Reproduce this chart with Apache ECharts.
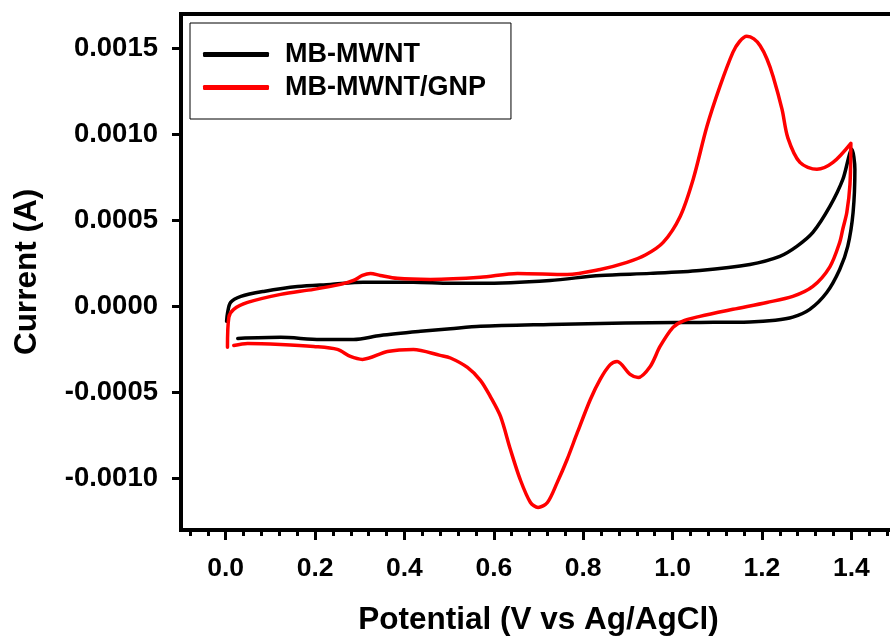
<!DOCTYPE html>
<html>
<head>
<meta charset="utf-8">
<script src="https://cdn.jsdelivr.net/npm/echarts@6/dist/echarts.min.js"></script>
<style>html,body{margin:0;padding:0;background:#fff}#c{width:890px;height:639px}</style>
</head>
<body>
<div id="c"></div>
<script>
// Potential (V) and current (1e-4 A)
const mwntV = [0.002,0.004,0.011,0.034,0.085,0.161,0.235,0.308,0.420,0.503,0.570,0.726,0.838,0.950,1.061,1.173,1.240,1.278,1.314,1.352,1.381,1.401,
  1.408,1.404,1.392,1.374,1.345,1.307,1.269,1.230,1.173,1.061,0.950,0.838,0.726,0.570,0.503,0.436,0.346,0.286,0.212,0.123,0.027];
const mwntI = [-0.87,-0.40,0.23,0.58,0.87,1.16,1.28,1.40,1.40,1.34,1.34,1.51,1.80,1.92,2.09,2.44,2.91,3.49,4.30,5.81,7.38,9.13,
  7.97,5.47,3.49,2.15,0.81,-0.17,-0.62,-0.80,-0.90,-0.93,-0.95,-0.99,-1.05,-1.16,-1.30,-1.45,-1.69,-1.92,-1.92,-1.80,-1.86];

const gnpV = [0.004,0.007,0.018,0.049,0.123,0.197,0.257,0.286,0.306,0.324,0.346,0.384,0.458,0.570,0.653,0.764,0.838,0.898,0.940,0.979,1.017,1.046,1.077,1.106,1.135,1.150,1.166,1.182,1.196,1.211,1.225,1.245,1.258,1.285,1.323,1.359,1.399,
  1.397,1.390,1.381,1.374,1.352,1.314,1.269,1.211,1.135,1.061,1.023,1.001,0.972,0.950,0.923,0.905,0.876,0.860,0.838,0.816,0.787,0.764,0.742,0.720,0.699,0.682,0.659,0.637,0.615,0.592,0.570,0.541,0.503,0.480,0.420,0.362,0.306,0.279,0.250,0.197,0.123,0.049,0.018];
const gnpI = [-2.38,-0.64,-0.17,0.23,0.70,0.99,1.28,1.51,1.80,1.92,1.80,1.63,1.57,1.69,1.92,1.86,2.15,2.56,3.00,3.72,5.23,7.38,10.47,12.79,14.77,15.40,15.70,15.55,15.15,14.40,13.37,11.45,9.80,8.37,7.97,8.37,9.48,
  7.10,5.47,4.50,3.72,2.30,1.16,0.58,0.23,-0.17,-0.58,-0.85,-1.22,-2.33,-3.49,-4.13,-3.95,-3.20,-3.40,-4.24,-5.41,-7.33,-8.90,-10.23,-11.40,-11.69,-11.40,-10.06,-8.31,-6.40,-5.23,-4.30,-3.55,-3.00,-2.85,-2.50,-2.62,-3.08,-2.91,-2.50,-2.33,-2.21,-2.15,-2.27];

const xTickLabels = [0.0,0.2,0.4,0.6,0.8,1.0,1.2,1.4];
const xMinorTicks = [-0.08,-0.04,0.04,0.08,0.12,0.16,0.24,0.28,0.32,0.36,0.44,0.48,0.52,0.56,0.64,0.68,0.72,0.76,0.84,0.88,0.92,0.96,1.04,1.08,1.12,1.16,1.24,1.28,1.32,1.36,1.44,1.48];
const yTickLabels = [-0.0010,-0.0005,0.0000,0.0005,0.0010,0.0015];

const pairs = (xs, ys) => xs.map((x, i) => [x, ys[i] * 1e-4]);
const FONT = '"Liberation Sans", Arial, sans-serif';

const chart = echarts.init(document.getElementById('c'), null, {renderer: 'canvas'});
chart.setOption({
  animation: false,
  backgroundColor: '#fff',
  grid: {left: 181, top: 14, width: 715, height: 516, show: true, borderColor: '#000', borderWidth: 4, containLabel: false, outerBoundsMode: 'none'},
  legend: {
    left: 190, top: 23, orient: 'vertical',
    padding: [18, 25, 18, 13], itemGap: 6, itemWidth: 66, itemHeight: 5,
    borderColor: '#000', borderWidth: 1, backgroundColor: '#fff',
    icon: 'roundRect',
    textStyle: {fontFamily: FONT, fontSize: 27, fontWeight: 'bold', color: '#000', padding: [0, 0, 0, 11]},
    data: ['MB-MWNT', 'MB-MWNT/GNP']
  },
  xAxis: [{
    type: 'value', min: -0.1, max: 1.5, gridIndex: 0, position: 'bottom',
    name: 'Potential (V vs Ag/AgCl)', nameLocation: 'middle', nameGap: 74,
    nameTextStyle: {fontFamily: FONT, fontSize: 31.5, fontWeight: 'bold', color: '#000'},
    axisLine: {show: true, onZero: false, lineStyle: {color: '#000', width: 4}},
    axisTick: {show: true, inside: false, length: 10, lineStyle: {color: '#000', width: 3}, customValues: xTickLabels},
    axisLabel: {show: true, margin: 25, fontFamily: FONT, fontSize: 26.5, fontWeight: 'bold', color: '#000',
      customValues: xTickLabels, formatter: v => v.toFixed(1)},
    splitLine: {show: false}
  }, {
    type: 'value', min: -0.1, max: 1.5, gridIndex: 0, position: 'bottom',
    axisLine: {show: false, onZero: false},
    axisTick: {show: true, inside: false, length: 6, lineStyle: {color: '#000', width: 3}, customValues: xMinorTicks},
    axisLabel: {show: false},
    splitLine: {show: false}
  }],
  yAxis: {
    type: 'value', min: -0.0013, max: 0.0017,
    name: 'Current (A)', nameLocation: 'middle', nameGap: 138,
    nameTextStyle: {fontFamily: FONT, fontSize: 31.5, fontWeight: 'bold', color: '#000'},
    axisLine: {show: true, onZero: false, lineStyle: {color: '#000', width: 4}},
    axisTick: {show: true, inside: false, length: 9, lineStyle: {color: '#000', width: 3}, customValues: yTickLabels},
    axisLabel: {show: true, margin: 23, fontFamily: FONT, fontSize: 27.5, fontWeight: 'bold', color: '#000',
      customValues: yTickLabels, formatter: v => v.toFixed(4)},
    splitLine: {show: false}
  },
  series: [{
    name: 'MB-MWNT', type: 'line', xAxisIndex: 0, data: pairs(mwntV, mwntI),
    showSymbol: false, symbol: 'none', smooth: 0.3, color: '#000',
    lineStyle: {color: '#000', width: 3.5, cap: 'round', join: 'round'}
  }, {
    name: 'MB-MWNT/GNP', type: 'line', xAxisIndex: 0, data: pairs(gnpV, gnpI),
    showSymbol: false, symbol: 'none', smooth: 0.3, color: '#ff0000',
    lineStyle: {color: '#ff0000', width: 3.5, cap: 'round', join: 'round'}
  }]
});
</script>
</body>
</html>
